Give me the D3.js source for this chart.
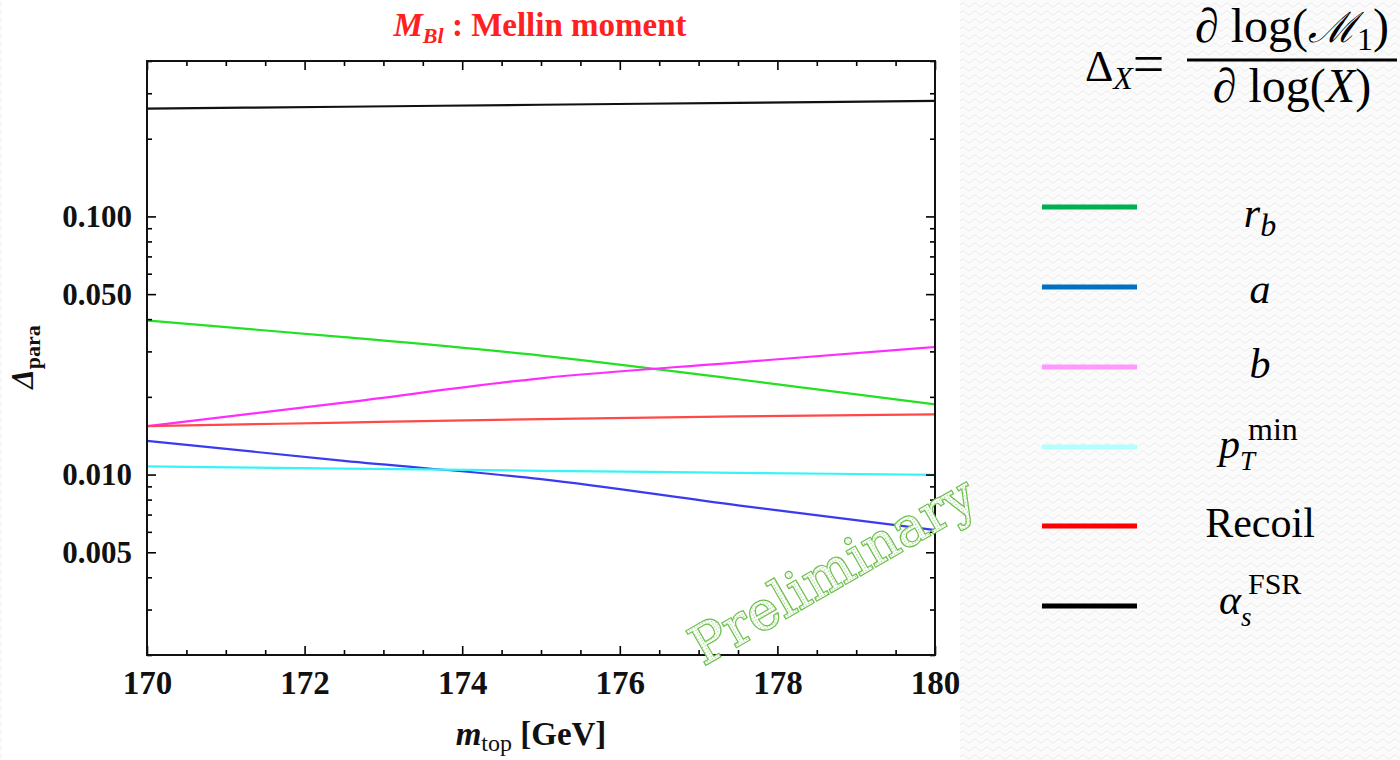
<!DOCTYPE html>
<html><head><meta charset="utf-8">
<script src="https://cdn.jsdelivr.net/npm/d3@7"></script>
<style>body{margin:0;background:#fff}svg{display:block}</style>
</head><body>
<svg id="chart" width="1400" height="760"></svg>
<script>
// ---- data ----
const mtop   = [170, 172.5, 175, 177.5, 180];
const rb     = [0.0395, 0.0341, 0.0289, 0.0234, 0.0187];
const aPar   = [0.0135, 0.0113, 0.0096, 0.0076, 0.0061];
const bPar   = [0.0154, 0.0190, 0.0236, 0.0272, 0.0312];
const pTmin  = [0.01075, 0.01055, 0.01034, 0.01016, 0.00998];
const recoil = [0.0154, 0.0159, 0.0164, 0.0168, 0.0171];
const alphaS = [0.2614, 0.2660, 0.2707, 0.2755, 0.2803];
const yMajor = [0.005, 0.01, 0.05, 0.1];
const yMinor = [0.002,0.003,0.004,0.006,0.007,0.008,0.009,0.02,0.03,0.04,0.06,0.07,0.08,0.09,0.2,0.3,0.4];
const xMajor = [170, 172, 174, 176, 178, 180];
const xMinor = d3.range(170, 180.01, 0.5).filter(v => v % 2 !== 0);

const series = [
  {name:"rb", vals: rb, color:"#22e022"},
  {name:"a", vals: aPar, color:"#3a3af0"},
  {name:"b", vals: bPar, color:"#ff2cff"},
  {name:"pT", vals: pTmin, color:"#38f4f4"},
  {name:"Recoil", vals: recoil, color:"#ff4848"},
  {name:"alpha", vals: alphaS, color:"#111111"}
];
const legendColors = ["#00b050","#0070c0","#ff99ff","#b3ffff","#ff0000","#000000"];

const svg = d3.select("#chart");
// background pattern
const defs = svg.append("defs");
const pat = defs.append("pattern").attr("id","zig").attr("width",12).attr("height",8).attr("patternUnits","userSpaceOnUse");
pat.append("rect").attr("width",12).attr("height",8).attr("fill","#fbfbfb");
pat.append("path").attr("d","M0,5 Q3,1 6,5 T12,5").attr("fill","none").attr("stroke","#ececec").attr("stroke-width",1);
const dots = defs.append("pattern").attr("id","dots").attr("width",3).attr("height",3).attr("patternUnits","userSpaceOnUse");
dots.append("rect").attr("width",3).attr("height",3).attr("fill","#ffffff");
dots.append("circle").attr("cx",1.5).attr("cy",1.5).attr("r",0.7).attr("fill","#9ccf86");
svg.append("rect").attr("width",1400).attr("height",760).attr("fill","url(#zig)");
svg.append("rect").attr("x",2).attr("y",0).attr("width",958).attr("height",760).attr("fill","#fff");

const x = d3.scaleLinear().domain([170,180]).range([147,935]);
const y = d3.scaleLog().domain([0.002,0.4]).range([655,61]);

const serif = "'Liberation Serif','Times New Roman',serif";

// lines
const line = d3.line().x((d,i)=>x(mtop[i])).y(d=>y(d)).curve(d3.curveMonotoneX);
const plotG = svg.append("g");
plotG.selectAll("path.s").data(series).join("path")
  .attr("class","s").attr("d", d=>line(d.vals)).attr("fill","none")
  .attr("stroke", d=>d.color).attr("stroke-width",2.2);

// axes
function styleAxis(g){ g.select(".domain").remove(); g.selectAll("line").attr("stroke","#000").attr("stroke-width",1.6); }
const fmt = d3.format(".3f");
const left = svg.append("g").attr("transform","translate(147,0)")
  .call(d3.axisLeft(y).tickValues(yMajor).tickFormat(fmt).tickSizeInner(-9).tickSizeOuter(0).tickPadding(15));
left.call(styleAxis);
left.selectAll("text").attr("font-family",serif).attr("font-weight","bold").attr("font-size",31).attr("fill","#111");
svg.append("g").attr("transform","translate(147,0)").call(d3.axisLeft(y).tickValues(yMinor).tickFormat("").tickSizeInner(-5).tickSizeOuter(0)).call(styleAxis);
svg.append("g").attr("transform","translate(935,0)").call(d3.axisRight(y).tickValues(yMajor).tickFormat("").tickSizeInner(-9).tickSizeOuter(0)).call(styleAxis);
svg.append("g").attr("transform","translate(935,0)").call(d3.axisRight(y).tickValues(yMinor).tickFormat("").tickSizeInner(-5).tickSizeOuter(0)).call(styleAxis);

const bottom = svg.append("g").attr("transform","translate(0,655)")
  .call(d3.axisBottom(x).tickValues(xMajor).tickFormat(d3.format("d")).tickSizeInner(-9).tickSizeOuter(0).tickPadding(16));
bottom.call(styleAxis);
bottom.selectAll("text").attr("font-family",serif).attr("font-weight","bold").attr("font-size",33).attr("fill","#111");
svg.append("g").attr("transform","translate(0,655)").call(d3.axisBottom(x).tickValues(xMinor).tickFormat("").tickSizeInner(-5).tickSizeOuter(0)).call(styleAxis);
svg.append("g").attr("transform","translate(0,61)").call(d3.axisTop(x).tickValues(xMajor).tickFormat("").tickSizeInner(-9).tickSizeOuter(0)).call(styleAxis);
svg.append("g").attr("transform","translate(0,61)").call(d3.axisTop(x).tickValues(xMinor).tickFormat("").tickSizeInner(-5).tickSizeOuter(0)).call(styleAxis);

// frame
svg.append("rect").attr("x",147).attr("y",61).attr("width",788).attr("height",594)
  .attr("fill","none").attr("stroke","#111").attr("stroke-width",2);

// title
const title = svg.append("text").attr("x",540).attr("y",36).attr("text-anchor","middle")
  .attr("font-family",serif).attr("font-weight","bold").attr("font-size",33).attr("fill","#ff2020");
title.append("tspan").attr("font-style","italic").text("M");
title.append("tspan").attr("font-style","italic").attr("font-size",22).attr("dy",7).text("Bl");
title.append("tspan").attr("dy",-7).text(" : Mellin moment");

// y label
const yl = svg.append("text").attr("transform","translate(33,357) rotate(-90)").attr("text-anchor","middle")
  .attr("font-family",serif).attr("font-weight","bold").attr("font-size",31).attr("fill","#111");
yl.append("tspan").attr("font-style","italic").text("Δ");
yl.append("tspan").attr("font-size",22).attr("dy",7).text("para");

// x label
const xl = svg.append("text").attr("x",531).attr("y",745).attr("text-anchor","middle")
  .attr("font-family",serif).attr("font-weight","bold").attr("font-size",33).attr("fill","#111");
xl.append("tspan").attr("font-style","italic").text("m");
xl.append("tspan").attr("font-weight","normal").attr("font-size",24).attr("dy",6).text("top");
xl.append("tspan").attr("dy",-6).text(" [GeV]");

// watermark
svg.append("text").attr("transform","translate(842,586) rotate(-30)").attr("text-anchor","middle")
  .attr("font-family","'DejaVu Serif',serif").attr("font-size",53).attr("letter-spacing",0.5).attr("fill","url(#dots)")
  .attr("stroke","#6cc04c").attr("stroke-width",2.4).attr("paint-order","stroke").text("Preliminary");

// formula
const fs = "'Liberation Serif','DejaVu Serif',serif";
const f1 = svg.append("text").attr("x",1085).attr("y",81).attr("font-family",fs).attr("font-size",44).attr("fill","#000");
f1.append("tspan").text("Δ");
f1.append("tspan").attr("font-style","italic").attr("font-size",32).attr("dy",8).text("X");
f1.append("tspan").attr("font-size",56).attr("dy",-6).text("=");
svg.append("line").attr("x1",1187).attr("x2",1397).attr("y1",60).attr("y2",60).attr("stroke","#000").attr("stroke-width",3);
const num = svg.append("text").attr("x",1292).attr("y",42).attr("text-anchor","middle").attr("font-family",fs).attr("font-size",48);
num.append("tspan").attr("font-style","italic").text("∂");
num.append("tspan").text(" log(");
num.append("tspan").attr("font-family","'DejaVu Serif',serif").attr("font-style","italic").attr("font-size",42).text("ℳ");
num.append("tspan").attr("font-size",32).attr("dy",8).text("1");
num.append("tspan").attr("dy",-8).text(")");
const den = svg.append("text").attr("x",1292).attr("y",102).attr("text-anchor","middle").attr("font-family",fs).attr("font-size",48);
den.append("tspan").attr("font-style","italic").text("∂");
den.append("tspan").text(" log(");
den.append("tspan").attr("font-style","italic").text("X");
den.append("tspan").text(")");

// legend
const legY = [207, 287, 367, 447, 526, 606];
const lg = svg.append("g");
lg.selectAll("line").data(legY).join("line")
  .attr("x1",1042).attr("x2",1137).attr("y1",d=>d).attr("y2",d=>d)
  .attr("stroke",(d,i)=>legendColors[i]).attr("stroke-width",5);
function lab(xx, yy, anchor){ return lg.append("text").attr("x",xx).attr("y",yy).attr("text-anchor",anchor||"middle").attr("font-family",fs).attr("font-size",42).attr("fill","#000"); }
let t = lab(1260,227); t.append("tspan").attr("font-style","italic").text("r"); t.append("tspan").attr("font-style","italic").attr("font-size",32).attr("dy",9).text("b");
t = lab(1260,303); t.append("tspan").attr("font-style","italic").text("a");
t = lab(1260,378); t.append("tspan").attr("font-style","italic").text("b");
// p_T^min : base + subscript, superscript as separate text
t = lab(1219,458,"start"); t.append("tspan").attr("font-style","italic").text("p");
t.append("tspan").attr("font-style","italic").attr("font-size",27).attr("dy",12).text("T");
lab(1248,440,"start").attr("font-size",32).text("min");
// Recoil
lab(1260,537).text("Recoil");
// alpha_s^FSR
t = lab(1219,614,"start"); t.append("tspan").attr("font-style","italic").text("α");
t.append("tspan").attr("font-style","italic").attr("font-size",27).attr("dy",12).text("s");
lab(1248,594,"start").attr("font-size",30).text("FSR");
</script>
</body></html>
